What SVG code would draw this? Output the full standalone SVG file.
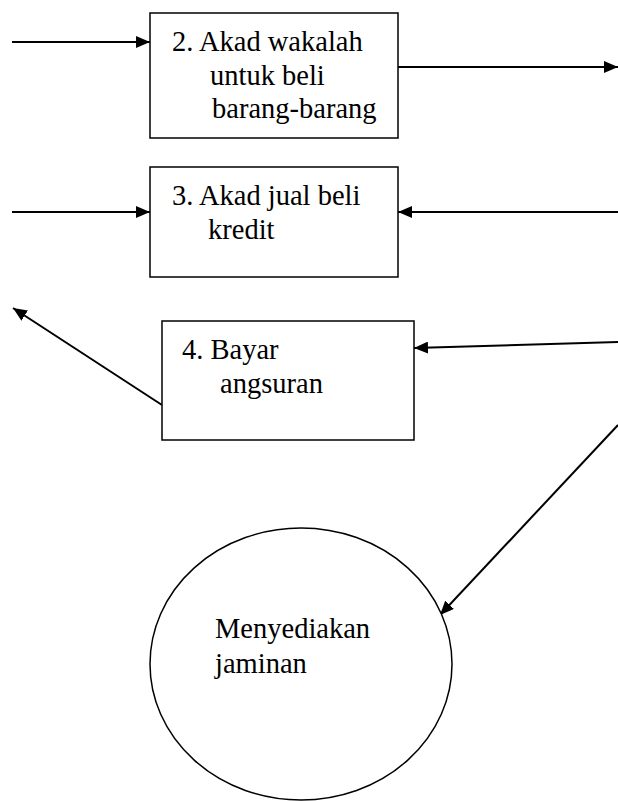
<svg xmlns="http://www.w3.org/2000/svg" width="618" height="801" viewBox="0 0 618 801">
<style>
.box{fill:#fff;stroke:#000;stroke-width:1.5}
.ln{stroke:#000;stroke-width:2;fill:none}
.t{font-family:"Liberation Serif","Times New Roman",serif;font-size:28.5px;fill:#000}
</style>
<defs>
<marker id="ah" viewBox="0 0 14 12" refX="14" refY="6" markerWidth="14" markerHeight="12" markerUnits="userSpaceOnUse" orient="auto">
<path d="M0,0 L14,6 L0,12 z" fill="#000"/>
</marker>
</defs>
<rect width="618" height="801" fill="#fff"/>
<g id="connectors">
<line class="ln" x1="12" y1="42" x2="150" y2="42" marker-end="url(#ah)"/>
<line class="ln" x1="398" y1="67" x2="618" y2="67" marker-end="url(#ah)"/>
<line class="ln" x1="12" y1="212" x2="150" y2="212" marker-end="url(#ah)"/>
<line class="ln" x1="618" y1="212" x2="398" y2="212" marker-end="url(#ah)"/>
<line class="ln" x1="162" y1="405" x2="13" y2="308" marker-end="url(#ah)"/>
<line class="ln" x1="618" y1="342" x2="414" y2="348" marker-end="url(#ah)"/>
<line class="ln" x1="618" y1="425" x2="440" y2="615" marker-end="url(#ah)"/>
</g>
<g id="node2">
<rect class="box" x="150" y="13" width="248" height="125"/>
<text class="t" x="172" y="51">2. Akad wakalah</text>
<text class="t" x="210" y="85">untuk beli</text>
<text class="t" x="212" y="118">barang-barang</text>
</g>
<g id="node3">
<rect class="box" x="150" y="167" width="248" height="110"/>
<text class="t" x="172" y="205">3. Akad jual beli</text>
<text class="t" x="208" y="239">kredit</text>
</g>
<g id="node4">
<rect class="box" x="162" y="321" width="252" height="119"/>
<text class="t" x="182" y="359">4. Bayar</text>
<text class="t" x="220" y="393">angsuran</text>
</g>
<g id="node5">
<ellipse class="box" cx="301" cy="664" rx="151" ry="136"/>
<text class="t" x="215" y="638">Menyediakan</text>
<text class="t" x="215" y="673">jaminan</text>
</g>
</svg>
